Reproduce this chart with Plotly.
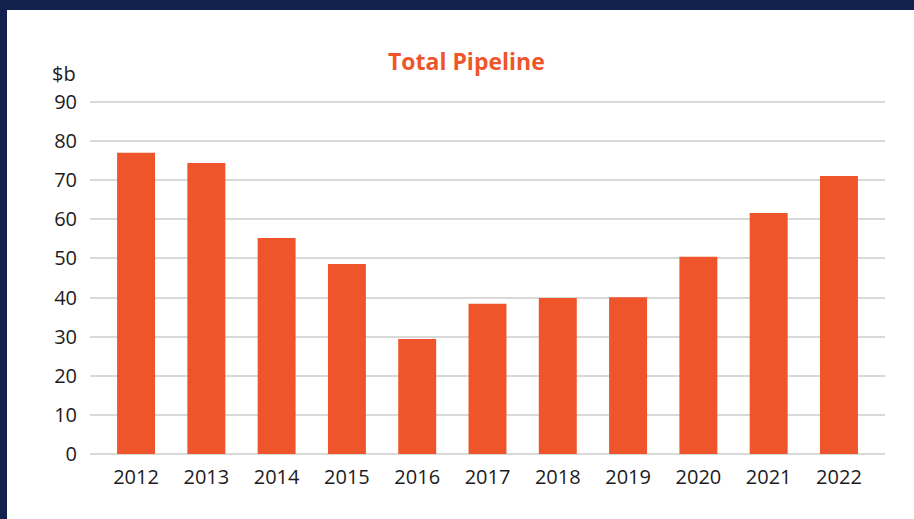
import plotly.graph_objects as go

years = ["2012", "2013", "2014", "2015", "2016", "2017", "2018", "2019", "2020", "2021", "2022"]
pipeline = [77.0, 74.4, 55.2, 48.6, 29.4, 38.4, 39.9, 40.1, 50.4, 61.6, 71.1]
y_ticks = [0, 10, 20, 30, 40, 50, 60, 70, 80, 90]

W, H = 914, 519
ML, MR, MT, MB = 90, 29, 100, 65
PW, PH = W - ML - MR, H - MT - MB

def px_x(p):
    return (p - ML) / PW

def px_y(p):
    return (H - MB - p) / PH

ORANGE = "#EE552A"
NAVY = "#13214F"
TXT = "#1E1B1C"
FONT = "Open Sans"

fig = go.Figure(go.Bar(x=years, y=pipeline, marker_color=ORANGE, width=0.54,
                       marker_line_width=0))

fig.update_layout(
    width=W, height=H,
    margin=dict(l=ML, r=MR, t=MT, b=MB),
    paper_bgcolor="white", plot_bgcolor="white",
    showlegend=False,
    font=dict(family=FONT, color=TXT, size=20),
    xaxis=dict(type="category", range=[-0.655, 10.655], showgrid=False,
               showline=False, ticks="", ticklabelstandoff=9,
               tickfont=dict(size=20, color=TXT, weight=500)),
    yaxis=dict(range=[0, 90.5], tickvals=y_ticks, showgrid=True,
               gridcolor="#D9D9D9", gridwidth=2, zeroline=True,
               zerolinecolor="#D9D9D9", zerolinewidth=2, showline=False,
               ticks="", ticklabelstandoff=12,
               tickfont=dict(size=20, color=TXT, weight=500)),
    shapes=[
        dict(type="rect", xref="paper", yref="paper", x0=px_x(0), x1=px_x(W),
             y0=px_y(10), y1=px_y(0), fillcolor=NAVY, line_width=0, layer="above"),
        dict(type="rect", xref="paper", yref="paper", x0=px_x(0), x1=px_x(7),
             y0=px_y(H), y1=px_y(0), fillcolor=NAVY, line_width=0, layer="above"),
    ],
    annotations=[
        dict(text="<b>Total Pipeline</b>", xref="paper", yref="paper",
             x=px_x(466), y=px_y(61), xanchor="center", yanchor="middle",
             showarrow=False, font=dict(family=FONT, size=23, color=ORANGE)),
        dict(text="$b", xref="paper", yref="paper",
             x=px_x(78), y=px_y(73), xanchor="right", yanchor="middle",
             showarrow=False, font=dict(family=FONT, size=20, color=TXT, weight=500)),
    ],
)

fig.write_html("out.html")
